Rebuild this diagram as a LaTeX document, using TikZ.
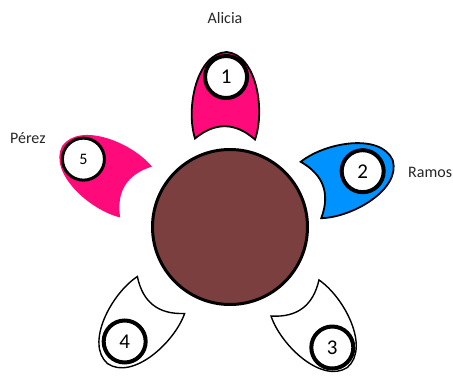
\documentclass[tikz,border=0pt]{standalone}
\usepackage{fontspec}
\setmainfont{Carlito}
\definecolor{chairpink}{HTML}{FF0A7A}
\definecolor{chairblue}{HTML}{0092FF}
\definecolor{tablebrown}{HTML}{7B3F3F}
\tikzset{
  chairshape/.pic={
    \path[pic actions] (0,-30) .. controls (30,-40) and (85,-30) .. (87,0)
      .. controls (85,30) and (30,40) .. (0,30)
      .. controls (17,10) and (17,-10) .. (0,-30) -- cycle;
  },
  seatmark/.style={circle, draw=black, fill=white, line width=4pt, minimum size=42pt, inner sep=0pt,
    font=\fontsize{21}{24}\selectfont},
  namelabel/.style={font=\fontsize{16}{19}\selectfont, inner sep=0pt, text=black!85},
}
\begin{document}
\begin{tikzpicture}[x=1pt,y=1pt]
\useasboundingbox (0,0) rectangle (453,-383);
% chairs
\pic[rotate=89, fill=chairpink, draw=black, line width=1.8pt] at (225,-139) {chairshape};
\pic[rotate=20, fill=chairblue, draw=black, line width=1.8pt] at (311,-190) {chairshape};
\pic[rotate=-53, fill=white, draw=black, line width=1.4pt] at (295,-298) {chairshape};
\pic[rotate=232, fill=white, draw=black, line width=1.4pt] at (161,-295) {chairshape};
\pic[rotate=148, fill=chairpink] at (136,-192) {chairshape};
% table
\node[circle, fill=tablebrown, draw=black, line width=3pt, minimum size=155pt, inner sep=0pt] (table) at (230,-227) {};
% seat markers
\node[seatmark] (m1) at ([shift={(89:62)}]225,-139) {1};
\node[seatmark] (m2) at ([shift={(20:55)}]311,-190) {2};
\node[seatmark] (m3) at ([shift={(-53:62)}]295,-298) {3};
\node[seatmark] (m4) at ([shift={(232:59)}]161,-295) {4};
\node[seatmark, line width=3pt, minimum size=42pt, font=\fontsize{16}{19}\selectfont] (m5) at ([shift={(148:62)}]136,-192) {5};
% names
\node[namelabel] (alicia) at (225,-18) {Alicia};
\node[namelabel, anchor=west] (ramos) at (408,-172) {Ramos};
\node[namelabel, anchor=west] (perez) at (10,-138) {Pérez};
\end{tikzpicture}
\end{document}
